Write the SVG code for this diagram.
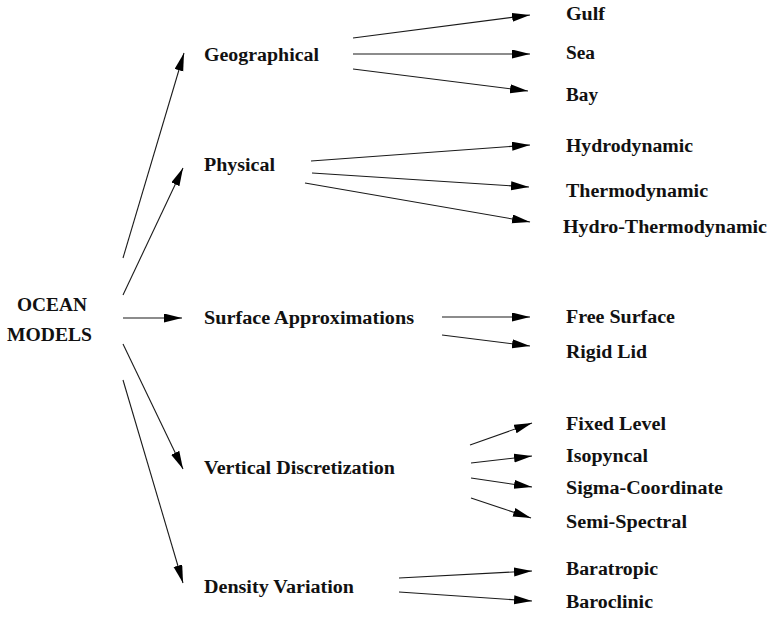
<svg xmlns="http://www.w3.org/2000/svg" width="767" height="617" viewBox="0 0 767 617">
<style>
text{font-family:"Liberation Serif","Times New Roman",serif;font-weight:bold;font-size:18px;fill:#111}
.c line{stroke:#1a1a1a;stroke-width:1.1;marker-end:url(#ah)}
</style>
<defs>
<marker id="ah" markerUnits="userSpaceOnUse" markerWidth="19" markerHeight="10" refX="18" refY="4.5" orient="auto">
<path d="M0,0 L18,4.5 L0,9 Z" fill="#000"/>
</marker>
</defs>
<rect width="767" height="617" fill="#fff"/>
<g class="c" id="connectors">
<line x1="123" y1="258" x2="184" y2="53"/>
<line x1="123" y1="295" x2="183" y2="168"/>
<line x1="123" y1="318" x2="182" y2="318"/>
<line x1="123" y1="344" x2="183" y2="469"/>
<line x1="123" y1="380" x2="183" y2="583"/>
<line x1="353" y1="38" x2="530" y2="15"/>
<line x1="353" y1="54" x2="530" y2="54"/>
<line x1="353" y1="69" x2="528" y2="91"/>
<line x1="311" y1="161" x2="530" y2="145"/>
<line x1="312" y1="173" x2="529" y2="187"/>
<line x1="305" y1="183" x2="530" y2="222"/>
<line x1="442" y1="317" x2="530" y2="317"/>
<line x1="442" y1="335" x2="530" y2="346"/>
<line x1="470" y1="445" x2="532" y2="423"/>
<line x1="471" y1="463" x2="532" y2="456"/>
<line x1="471" y1="478" x2="532" y2="487"/>
<line x1="471" y1="498" x2="531" y2="518"/>
<line x1="399" y1="578" x2="532" y2="571"/>
<line x1="399" y1="592" x2="532" y2="601"/>
</g>
<g id="root"><text x="17" y="311" textLength="70" lengthAdjust="spacingAndGlyphs">OCEAN</text><text x="7" y="341" textLength="85" lengthAdjust="spacingAndGlyphs">MODELS</text></g>
<g id="geographical"><text x="204" y="61" textLength="115" lengthAdjust="spacingAndGlyphs">Geographical</text></g>
<g id="physical"><text x="204" y="171" textLength="71" lengthAdjust="spacingAndGlyphs">Physical</text></g>
<g id="surface"><text x="204" y="324" textLength="210" lengthAdjust="spacingAndGlyphs">Surface Approximations</text></g>
<g id="vertical"><text x="204" y="474" textLength="191" lengthAdjust="spacingAndGlyphs">Vertical Discretization</text></g>
<g id="density"><text x="204" y="593" textLength="150" lengthAdjust="spacingAndGlyphs">Density Variation</text></g>
<g id="gulf"><text x="566" y="20" textLength="39" lengthAdjust="spacingAndGlyphs">Gulf</text></g>
<g id="sea"><text x="566" y="59" textLength="29" lengthAdjust="spacingAndGlyphs">Sea</text></g>
<g id="bay"><text x="566" y="101" textLength="32" lengthAdjust="spacingAndGlyphs">Bay</text></g>
<g id="hydrodynamic"><text x="566" y="152" textLength="127" lengthAdjust="spacingAndGlyphs">Hydrodynamic</text></g>
<g id="thermodynamic"><text x="566" y="197" textLength="142" lengthAdjust="spacingAndGlyphs">Thermodynamic</text></g>
<g id="hydrothermo"><text x="563" y="233" textLength="204" lengthAdjust="spacingAndGlyphs">Hydro-Thermodynamic</text></g>
<g id="freesurface"><text x="566" y="323" textLength="109" lengthAdjust="spacingAndGlyphs">Free Surface</text></g>
<g id="rigidlid"><text x="566" y="358" textLength="81" lengthAdjust="spacingAndGlyphs">Rigid Lid</text></g>
<g id="fixedlevel"><text x="566" y="430" textLength="100" lengthAdjust="spacingAndGlyphs">Fixed Level</text></g>
<g id="isopyncal"><text x="566" y="462" textLength="82" lengthAdjust="spacingAndGlyphs">Isopyncal</text></g>
<g id="sigma"><text x="566" y="494" textLength="157" lengthAdjust="spacingAndGlyphs">Sigma-Coordinate</text></g>
<g id="semispectral"><text x="566" y="528" textLength="121" lengthAdjust="spacingAndGlyphs">Semi-Spectral</text></g>
<g id="baratropic"><text x="566" y="575" textLength="92" lengthAdjust="spacingAndGlyphs">Baratropic</text></g>
<g id="baroclinic"><text x="566" y="608" textLength="87" lengthAdjust="spacingAndGlyphs">Baroclinic</text></g>
</svg>
